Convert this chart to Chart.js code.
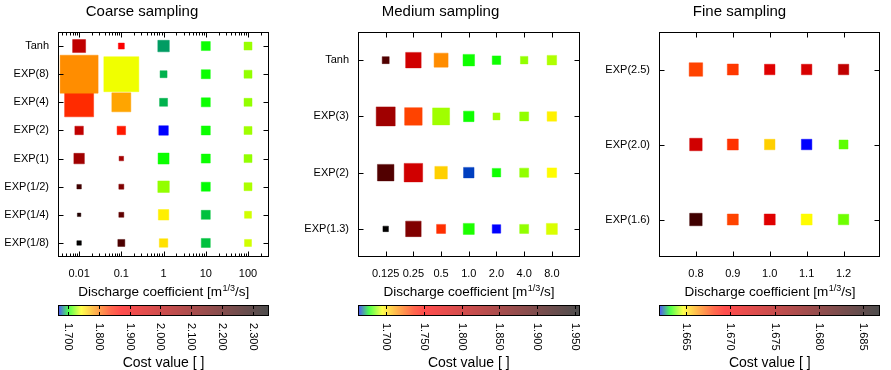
<!DOCTYPE html>
<html><head><meta charset="utf-8">
<script src="https://cdn.jsdelivr.net/npm/chart.js@4.4.1/dist/chart.umd.min.js"></script>
<style>
html,body{margin:0;padding:0;background:#fff;}
#wrap{position:relative;width:891px;height:370px;overflow:hidden;background:#fff;}
canvas{position:absolute;top:0;}
</style></head><body>
<div id="wrap">
<canvas id="c1" width="297" height="370" style="left:0px"></canvas>
<canvas id="c2" width="297" height="370" style="left:297px"></canvas>
<canvas id="c3" width="297" height="370" style="left:594px"></canvas>
</div>
<script>
// ---------------- DATA ----------------
// Coarse sampling
const coarseRows = ['Tanh','EXP(8)','EXP(4)','EXP(2)','EXP(1)','EXP(1/2)','EXP(1/4)','EXP(1/8)'];
const coarseCoef = [0.01, 0.1, 1, 10, 100];
const coarseCoefLabels = ['0.01','0.1','1','10','100'];
const coarseCost = [
  [1.991, 1.878, 1.688, 1.703, 1.726],
  [1.790, 1.740, 1.691, 1.703, 1.725],
  [1.837, 1.780, 1.691, 1.703, 1.725],
  [1.991, 1.852, 1.667, 1.703, 1.727],
  [2.051, 2.045, 1.703, 1.703, 1.725],
  [2.232, 2.112, 1.725, 1.701, 1.729],
  [2.293, 2.172, 1.749, 1.693, 1.735],
  [2.350, 2.210, 1.755, 1.693, 1.735]
];
const coarseSpread = [
  [1.40, 0.70, 1.25, 1.00, 0.90],
  [3.90, 3.60, 0.80, 1.00, 0.90],
  [3.00, 2.00, 0.90, 1.00, 0.90],
  [0.95, 0.95, 1.05, 1.00, 0.90],
  [1.15, 0.55, 1.20, 1.00, 0.90],
  [0.55, 0.60, 1.25, 1.00, 0.90],
  [0.45, 0.60, 1.15, 1.00, 0.80],
  [0.55, 0.80, 0.95, 1.00, 0.80]
];
const coarseCbRange = [1.667, 2.353];
const coarseCbTicks = [1.7, 1.8, 1.9, 2.0, 2.1, 2.2, 2.3];

// Medium sampling
const mediumRows = ['Tanh','EXP(3)','EXP(2)','EXP(1.3)'];
const mediumCoef = [0.125, 0.25, 0.5, 1, 2, 4, 8];
const mediumCoefLabels = ['0.125','0.25','0.5','1.0','2.0','4.0','8.0'];
const mediumCost = [
  [1.891, 1.789, 1.716, 1.679, 1.679, 1.688, 1.690],
  [1.827, 1.731, 1.689, 1.679, 1.689, 1.688, 1.698],
  [1.891, 1.789, 1.704, 1.667, 1.679, 1.688, 1.696],
  [1.955, 1.853, 1.735, 1.680, 1.6634, 1.688, 1.693]
];
const mediumSpread = [
  [0.80, 1.65, 1.50, 1.25, 0.95, 0.85, 1.05],
  [2.00, 1.85, 1.80, 1.15, 0.80, 1.00, 1.05],
  [1.75, 1.95, 1.35, 1.15, 0.95, 1.00, 1.05],
  [0.65, 1.65, 1.00, 1.20, 0.95, 1.00, 1.20]
];
const mediumCbRange = [1.6634, 1.9557];
const mediumCbTicks = [1.70, 1.75, 1.80, 1.85, 1.90, 1.95];

// Fine sampling
const fineRows = ['EXP(2.5)','EXP(2.0)','EXP(1.6)'];
const fineCoef = [0.8, 0.9, 1.0, 1.1, 1.2];
const fineCoefLabels = ['0.8','0.9','1.0','1.1','1.2'];
const fineCost = [
  [1.6677, 1.6679, 1.6716, 1.6721, 1.6738],
  [1.6727, 1.6680, 1.6654, 1.6619, 1.6637],
  [1.6826, 1.6677, 1.6716, 1.6647, 1.6638]
];
const fineSpread = [
  [1.45, 1.20, 1.15, 1.15, 1.15],
  [1.35, 1.20, 1.15, 1.15, 1.00],
  [1.35, 1.20, 1.20, 1.20, 1.15]
];
const fineCbRange = [1.6619, 1.6870];
const fineCbTicks = [1.665, 1.670, 1.675, 1.680, 1.685];

// ---------------- STYLE / RENDER ----------------
const FONT = '"Liberation Sans", Arial, Helvetica, sans-serif';
const SIZE_PX = 10; // pixels per spread unit
const STOPS = [
  [0.00,   0,   0, 255],
  [0.05,   0, 255,   0],
  [0.08, 128, 255,   0],
  [0.11, 255, 255,   0],
  [0.18, 255, 140,   0],
  [0.25, 255,  40,   0],
  [0.30, 255,   0,   0],
  [1.00,   0,   0,   0]
];
function cmap(t) {
  t = Math.max(0, Math.min(1, t));
  for (let i = 1; i < STOPS.length; i++) {
    if (t <= STOPS[i][0]) {
      const a = STOPS[i-1], b = STOPS[i];
      const f = (t - a[0]) / (b[0] - a[0]);
      return [0,1,2].map(k => Math.round(a[k+1] + (b[k+1]-a[k+1])*f));
    }
  }
  return STOPS[STOPS.length-1].slice(1);
}

function makePanel(id, o) {
  const pts = [], fills = [], borders = [], radii = [];
  for (let r = o.rows.length - 1; r >= 0; r--) {
    for (let c = 0; c < o.coef.length; c++) {
      pts.push({x: o.coef[c], y: r});
      const t = (o.cost[r][c] - o.cbRange[0]) / (o.cbRange[1] - o.cbRange[0]);
      const [R,G,B] = cmap(t);
      fills.push(`rgb(${R},${G},${B})`);
      borders.push(`rgba(${R},${G},${B},0.45)`);
      const side = Math.max(1, o.spread[r][c] * SIZE_PX - 1);
      radii.push(side / Math.SQRT2);
    }
  }

  const plugin = {
    id: 'frame_' + id,
    afterDraw(chart) {
      const ctx = chart.ctx, a = chart.chartArea, sx = chart.scales.x, sy = chart.scales.y, cb = chart.scales.cb;
      ctx.save();
      ctx.strokeStyle = '#000';
      ctx.lineWidth = 1;
      const L = Math.round(a.left) + 0.5, R = Math.round(a.right) - 0.5;
      const T = Math.round(a.top) + 0.5, Bm = Math.round(a.bottom) - 0.5;
      ctx.strokeRect(L, T, R - L, Bm - T);
      ctx.beginPath();
      // major x ticks
      o.coef.forEach(v => {
        const px = Math.round(sx.getPixelForValue(v)) + 0.5;
        ctx.moveTo(px, Bm); ctx.lineTo(px, Bm - 5);
        ctx.moveTo(px, T); ctx.lineTo(px, T + 5);
      });
      (o.minor || []).forEach(v => {
        const px = Math.round(sx.getPixelForValue(v)) + 0.5;
        ctx.moveTo(px, Bm); ctx.lineTo(px, Bm - 3);
        ctx.moveTo(px, T); ctx.lineTo(px, T + 3);
      });
      o.rows.forEach((_, i) => {
        const py = Math.round(sy.getPixelForValue(i)) + 0.5;
        ctx.moveTo(L, py); ctx.lineTo(L + 5, py);
        ctx.moveTo(R, py); ctx.lineTo(R - 5, py);
      });
      ctx.stroke();

      // x axis title with superscript
      const cx = (a.left + a.right) / 2;
      const m1 = 'Discharge coefficient [m', sup = '1/3', m2 = '/s]';
      ctx.fillStyle = '#000';
      ctx.textBaseline = 'alphabetic';
      ctx.textAlign = 'left';
      ctx.font = `13.5px ${FONT}`;
      const w1 = ctx.measureText(m1).width, w3 = ctx.measureText(m2).width;
      ctx.font = `9px ${FONT}`;
      const w2 = ctx.measureText(sup).width;
      let x = cx - (w1 + w2 + w3) / 2;
      const base = a.bottom + 39;
      ctx.font = `13.5px ${FONT}`;
      ctx.fillText(m1, x, base); x += w1;
      ctx.font = `9px ${FONT}`;
      ctx.fillText(sup, x + 0.5, base - 5.5); x += w2 + 0.5;
      ctx.font = `13.5px ${FONT}`;
      ctx.fillText(m2, x, base);

      // colorbar
      const cTop = Math.round(a.bottom) + 48, cBot = cTop + 11;
      const cl = Math.round(cb.left), cr = Math.round(cb.right);
      for (let px = cl; px < cr; px++) {
        const v = cb.getValueForPixel(px + 0.5);
        const t = (v - o.cbRange[0]) / (o.cbRange[1] - o.cbRange[0]);
        const [r0, g0, b0] = cmap(t);
        const al = 0.70;
        ctx.fillStyle = `rgb(${Math.round(r0*al+255*(1-al))},${Math.round(g0*al+255*(1-al))},${Math.round(b0*al+255*(1-al))})`;
        ctx.fillRect(px, cTop, 1, cBot - cTop);
      }
      ctx.strokeStyle = '#000';
      ctx.strokeRect(cl + 0.5, cTop + 0.5, cr - cl - 1, cBot - cTop - 1);
      ctx.beginPath();
      o.cbTicks.forEach(v => {
        const px = Math.round(cb.getPixelForValue(v)) + 0.5;
        ctx.moveTo(px, cTop); ctx.lineTo(px, cTop + 4);
        ctx.moveTo(px, cBot); ctx.lineTo(px, cBot - 4);
      });
      ctx.stroke();
      ctx.fillStyle = '#000';
      ctx.font = `11px ${FONT}`;
      o.cbTicks.forEach(v => {
        const px = cb.getPixelForValue(v);
        ctx.save();
        ctx.translate(px, cBot + 7);
        ctx.rotate(Math.PI / 2);
        ctx.textAlign = 'left';
        ctx.textBaseline = 'middle';
        ctx.fillText(v.toFixed(3), 0, 0);
        ctx.restore();
      });
      ctx.font = `14px ${FONT}`;
      ctx.textAlign = 'center';
      ctx.textBaseline = 'alphabetic';
      ctx.fillText('Cost value [ ]', cx, 366.5);
      ctx.restore();
    }
  };

  return new Chart(document.getElementById(id), {
    type: 'scatter',
    data: {
      datasets: [{
        data: pts,
        pointStyle: 'rect',
        pointRadius: radii,
        pointBackgroundColor: fills,
        pointBorderColor: borders,
        pointBorderWidth: 1
      }]
    },
    options: {
      responsive: false,
      animation: false,
      events: [],
      layout: { padding: { left: 0, right: o.padRight, top: 0, bottom: 0 } },
      plugins: {
        legend: { display: false },
        tooltip: { enabled: false },
        title: {
          display: true, text: o.title, color: '#000',
          font: { family: FONT, size: 15, weight: 'normal', lineHeight: 1.2 },
          padding: { top: 3, bottom: 11 }
        }
      },
      scales: {
        x: {
          type: o.xType, min: o.xMin, max: o.xMax, bounds: 'data',
          grid: { display: false, drawTicks: false }, border: { display: false },
          afterBuildTicks: s => { s.ticks = o.coef.map(v => ({ value: v })); },
          afterFit: s => { s.height = 113; },
          ticks: {
            autoSkip: false, maxRotation: 0, minRotation: 0, padding: 10, color: '#000',
            font: { family: FONT, size: 11 },
            callback: (v, i) => o.coefLabels[i]
          }
        },
        y: {
          type: 'linear', reverse: true, min: -0.5, max: o.rows.length - 0.5,
          grid: { display: false, drawTicks: false }, border: { display: false },
          afterBuildTicks: s => { s.ticks = o.rows.map((_, i) => ({ value: i })); },
          afterFit: s => { s.width = o.yWidth; },
          ticks: {
            autoSkip: false, padding: 9, color: '#000',
            font: { family: FONT, size: 11 },
            callback: (v, i) => o.rows[i]
          }
        },
        cb: {
          type: 'linear', axis: 'x', position: 'bottom', display: false,
          min: o.cbRange[0], max: o.cbRange[1]
        }
      }
    },
    plugins: [plugin]
  });
}

// minor log ticks for coarse panel
const coarseMin = Math.pow(10, -2.5), coarseMax = Math.pow(10, 2.5);
const coarseMinor = [];
for (let d = -3; d <= 2; d++) for (let k = 2; k <= 9; k++) {
  const v = k * Math.pow(10, d);
  if (v > coarseMin && v < coarseMax) coarseMinor.push(v);
}

makePanel('c1', {
  title: 'Coarse sampling', rows: coarseRows, coef: coarseCoef, coefLabels: coarseCoefLabels,
  cost: coarseCost, spread: coarseSpread, cbRange: coarseCbRange, cbTicks: coarseCbTicks,
  xType: 'logarithmic', xMin: coarseMin, xMax: coarseMax, minor: coarseMinor,
  yWidth: 58, padRight: 13
});
makePanel('c2', {
  title: 'Medium sampling', rows: mediumRows, coef: mediumCoef, coefLabels: mediumCoefLabels,
  cost: mediumCost, spread: mediumSpread, cbRange: mediumCbRange, cbTicks: mediumCbTicks,
  xType: 'logarithmic', xMin: 0.0625, xMax: 16,
  yWidth: 61, padRight: 10
});
makePanel('c3', {
  title: 'Fine sampling', rows: fineRows, coef: fineCoef, coefLabels: fineCoefLabels,
  cost: fineCost, spread: fineSpread, cbRange: fineCbRange, cbTicks: fineCbTicks,
  xType: 'linear', xMin: 0.7, xMax: 1.3,
  yWidth: 65, padRight: 6
});
</script>
</body></html>
